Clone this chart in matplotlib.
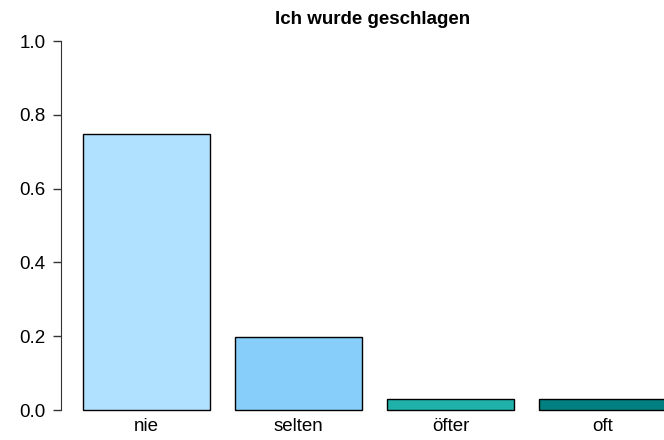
import matplotlib
matplotlib.use("Agg")
import matplotlib.pyplot as plt

plt.rcParams['font.family'] = ['Liberation Sans', 'DejaVu Sans']

categories = ["nie", "selten", "öfter", "oft"]
values = [0.748, 0.198, 0.030, 0.030]
colors = ["#B0E2FF", "#87CEFA", "#20B2AA", "#008080"]
yticks = [0.0, 0.2, 0.4, 0.6, 0.8, 1.0]
title = "Ich wurde geschlagen"

W, H = 664, 440
fig = plt.figure(figsize=(W / 100, H / 100), dpi=100)

# axes in pixel coords: left spine at x=61, y=0 at 410px, y=1 at 41px
y0_px, y1_px = 410, 41
ppu = y0_px - y1_px
pad = 0.04
bottom = H - (y0_px + pad * ppu)
top = H - (y1_px - pad * ppu)
left_px, right_px = 61, 700
ax = fig.add_axes([left_px / W, bottom / H, (right_px - left_px) / W, (top - bottom) / H])

# R barplot layout: width 1, space 0.2
unit = 126.7
x_origin = 57.7
xs = [0.2 + i * 1.2 + 0.5 for i in range(len(categories))]
ax.bar(xs, values, width=1.0, color=colors, edgecolor="black", linewidth=1.0)
ax.set_xlim((left_px - x_origin) / unit, (right_px - x_origin) / unit)
ax.set_ylim(-pad, 1 + pad)

for s in ["top", "right", "bottom"]:
    ax.spines[s].set_visible(False)
ax.spines["left"].set_bounds(0, 1)
ax.spines["left"].set_color("#333333")
ax.set_yticks(yticks)
ax.set_yticklabels(["%.1f" % t for t in yticks])
ax.tick_params(axis="y", length=6, width=1, color="#333333", labelsize=13.5, pad=5)
ax.set_xticks(xs)
ax.set_xticklabels(categories)
ax.tick_params(axis="x", length=0, labelsize=13.5, pad=-5)

fig.text(373 / W, 1 - 19 / H, title, ha="center", va="center", fontsize=13.5, fontweight="bold")

fig.savefig("out.png", dpi=100)
